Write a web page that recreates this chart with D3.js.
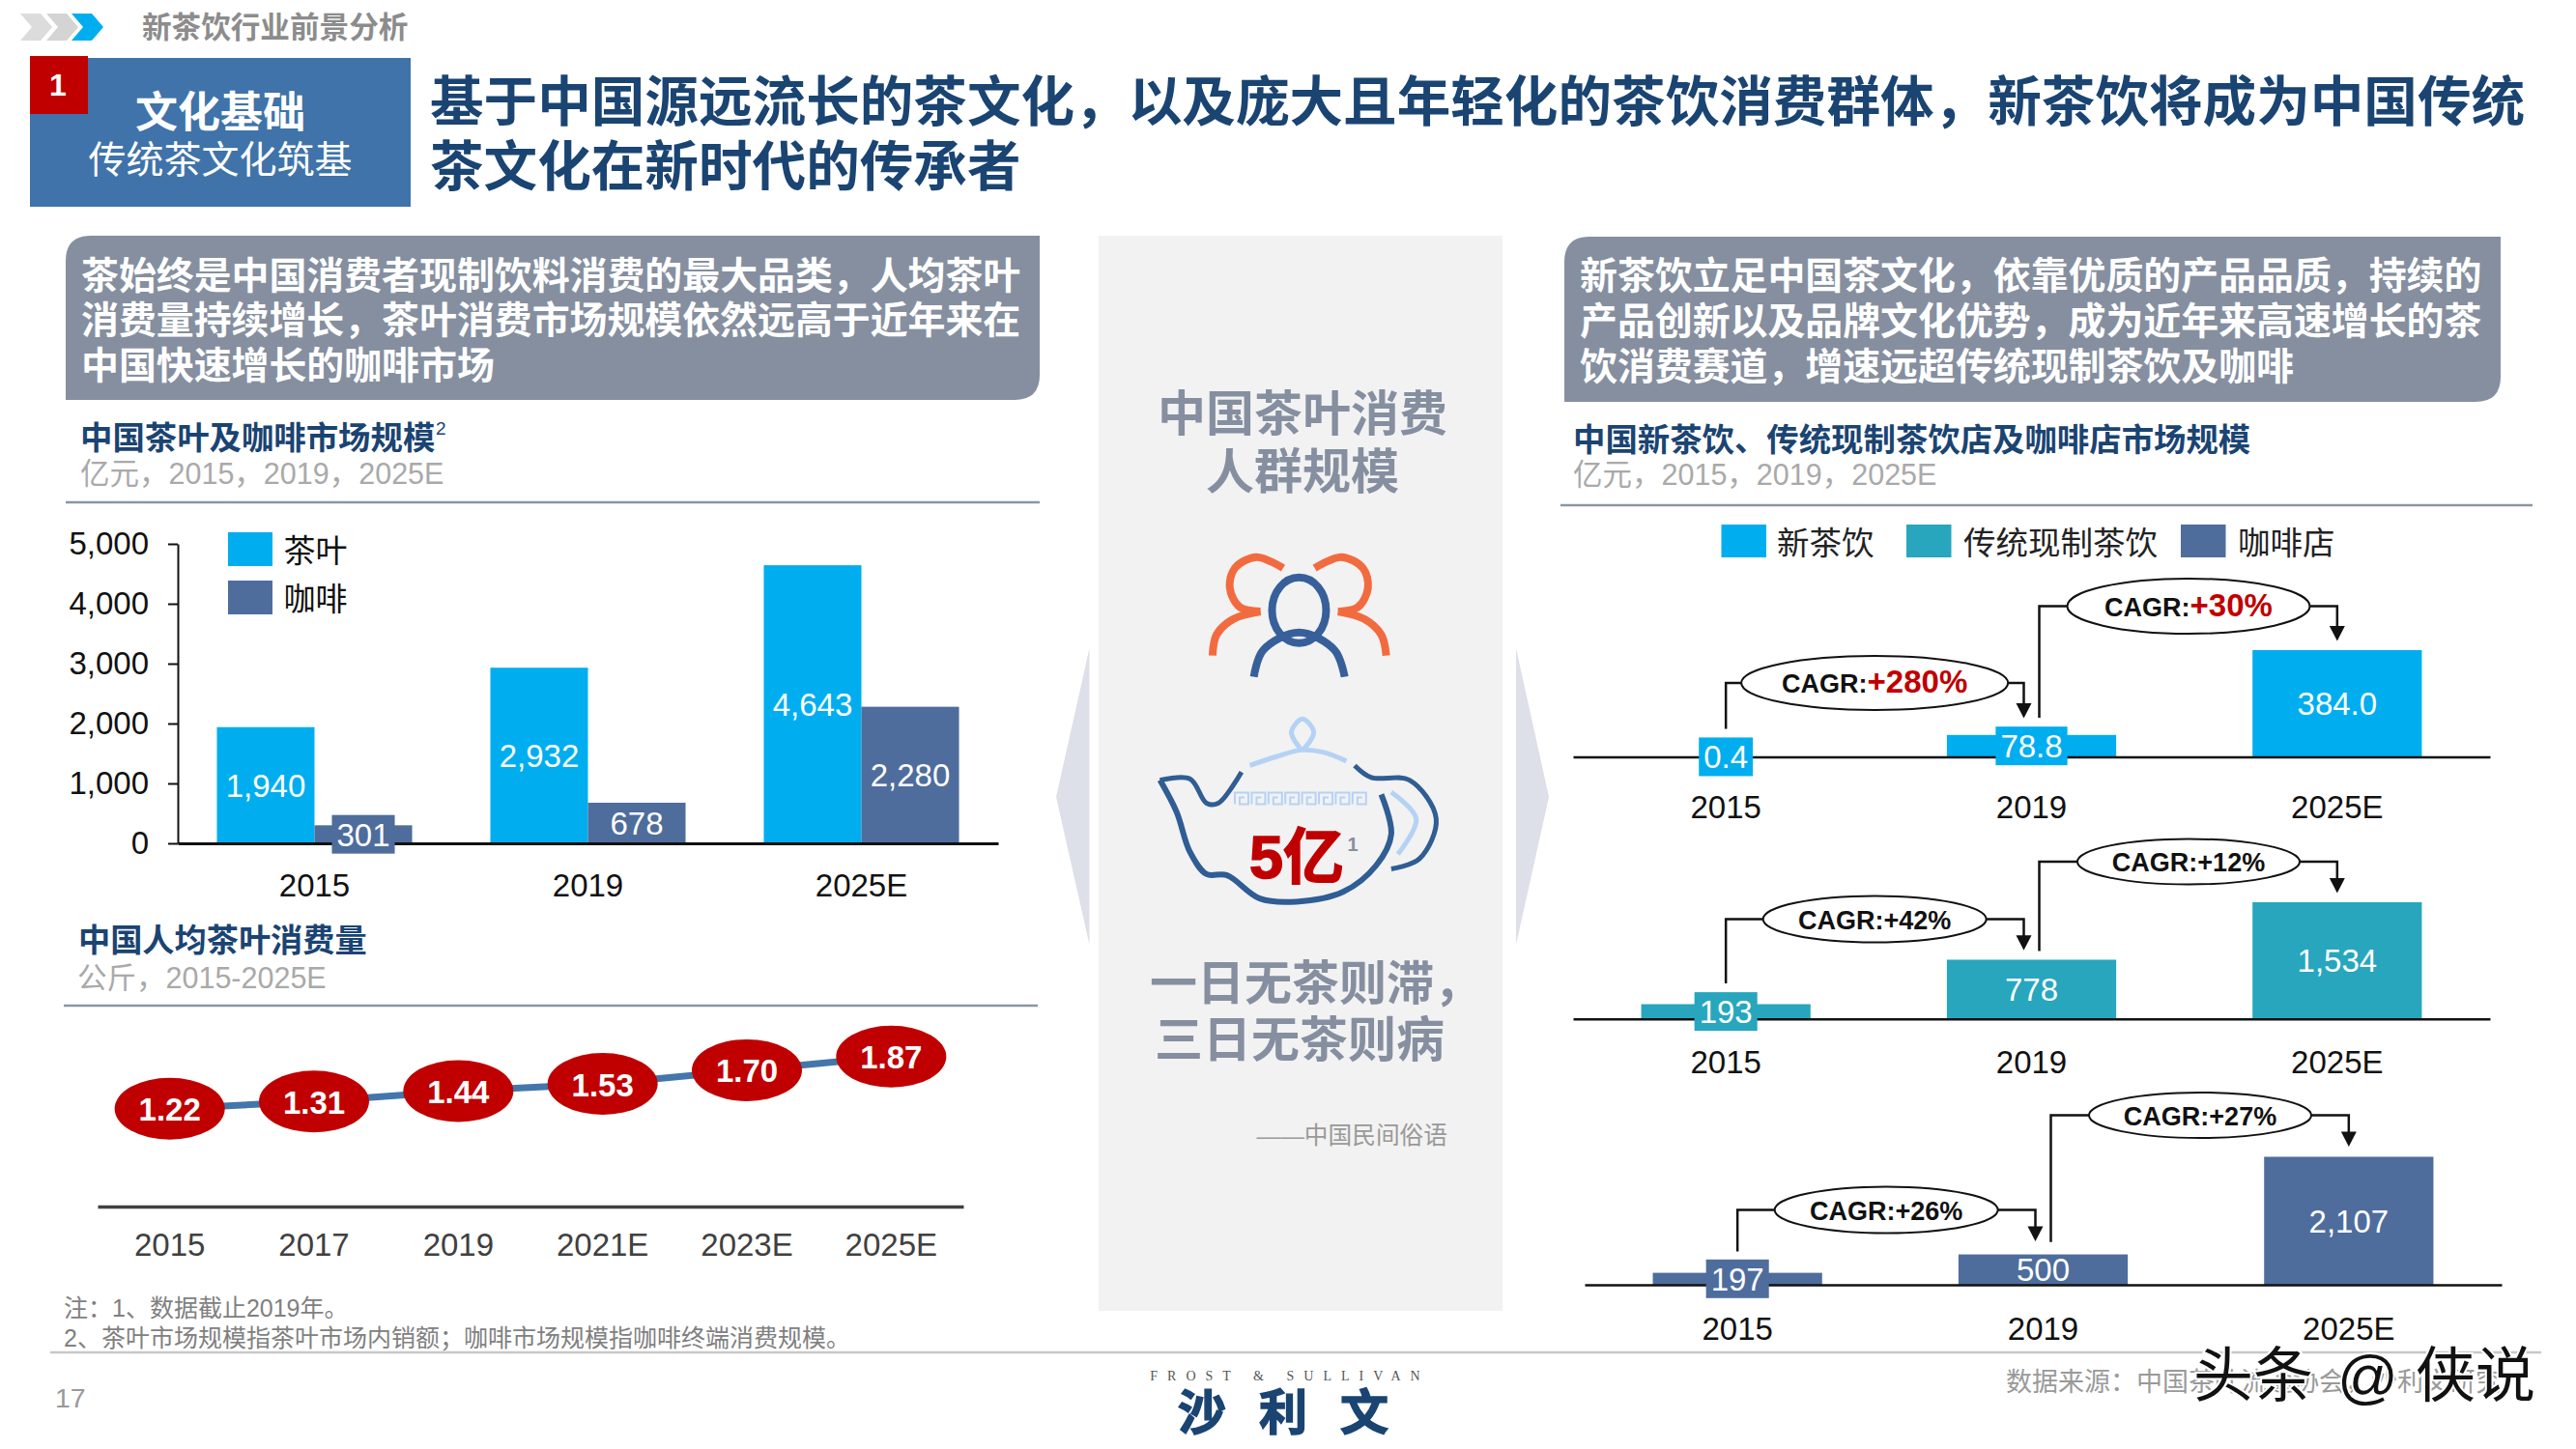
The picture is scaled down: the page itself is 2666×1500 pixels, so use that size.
<!DOCTYPE html>
<html>
<head>
<meta charset="utf-8">
<script src="https://cdnjs.cloudflare.com/ajax/libs/d3/7.8.5/d3.min.js"></script>
<style>
html, body { margin: 0; padding: 0; background: #fff; }
svg { display: block; }
</style>
</head>
<body>
<div id="chart"></div>
<script>
// market size, 亿元
const marketYears = ['2015', '2019', '2025E'];
const marketSeries = ['茶叶', '咖啡'];
const teaValues = [1940, 2932, 4643];
const coffeeValues = [301, 678, 2280];
const marketTicks = [0, 1000, 2000, 3000, 4000, 5000];

// per capita, 公斤
const perCapitaYears = ['2015', '2017', '2019', '2021E', '2023E', '2025E'];
const perCapitaValues = [1.22, 1.31, 1.44, 1.53, 1.70, 1.87];

// right side panels
const shopSeries = ['新茶饮', '传统现制茶饮', '咖啡店'];
const newTeaValues = [0.4, 78.8, 384.0];
const tradTeaValues = [193, 778, 1534];
const cafeValues = [197, 500, 2107];
const newTeaCagr = ['+280%', '+30%'];
const tradTeaCagr = ['+42%', '+12%'];
const cafeCagr = ['+26%', '+27%'];

const FONT = '"Liberation Sans", "Noto Sans CJK SC", sans-serif';
const NAVY = '#1a4472', SLATE = '#858fa0', SKY = '#00aeef', TEAL = '#27a6bd', STEEL = '#4e6d9c', RED = '#c00000';

var svg = d3.select('#chart').append('svg')
  .attr('width', 2666)
  .attr('height', 1500)
  .attr('viewBox', '0 0 2666 1500')
  .style('font-family', FONT);

svg.append('rect').attr('width', 2666).attr('height', 1500).attr('fill', '#fff');

function label(x, y, str, size, color, weight, anchor) {
  return svg.append('text')
    .attr('x', x)
    .attr('y', y)
    .attr('dy', '.35em')
    .attr('font-size', size)
    .attr('fill', color)
    .attr('font-weight', weight || 400)
    .attr('text-anchor', anchor || 'start')
    .text(str);
}

// box with the top-left and bottom-right corners rounded
function noteBox(x, y, w, h, r) {
  var p = d3.path();
  p.moveTo(x + r, y);
  p.lineTo(x + w, y);
  p.lineTo(x + w, y + h - r);
  p.quadraticCurveTo(x + w, y + h, x + w - r, y + h);
  p.lineTo(x, y + h);
  p.lineTo(x, y + r);
  p.quadraticCurveTo(x, y, x + r, y);
  p.closePath();
  svg.append('path').attr('d', p.toString()).attr('fill', SLATE);
}

function rule(x1, x2, y, color, width) {
  svg.append('line').attr('x1', x1).attr('x2', x2).attr('y1', y).attr('y2', y)
    .attr('stroke', color).attr('stroke-width', width);
}

// value in the middle of a bar, with a small plate when the bar is too thin for it
function barValue(cx, top, base, str, color) {
  var cy = (top + base) / 2;
  var plate = svg.append('rect');
  var t = label(cx, cy + 0.5, str, 33, '#fff', 400, 'middle');
  if (base - top < 28) {
    var w = t.node().getComputedTextLength() + 10;
    plate.attr('x', cx - w / 2).attr('y', cy - 20).attr('width', w).attr('height', 40).attr('fill', color);
  } else {
    plate.remove();
  }
}

// header
[[21, '#dcdcdc'], [48, '#d4d4d4'], [74, SKY]].forEach(function (c) {
  var x = c[0];
  svg.append('polygon')
    .attr('points', [[x, 14], [x + 21, 14], [x + 33, 28], [x + 21, 42], [x, 42], [x + 12, 28]].join(' '))
    .attr('fill', c[1]);
});
label(147, 28, '新茶饮行业前景分析', 30.6, '#8c8c8c', 700);

svg.append('rect').attr('x', 31).attr('y', 60).attr('width', 394).attr('height', 154).attr('fill', '#3f73a9');
svg.append('rect').attr('x', 31).attr('y', 58).attr('width', 60).attr('height', 60).attr('fill', RED);
label(60, 88, '1', 32, '#fff', 700, 'middle');
label(228, 117, '文化基础', 44, '#fff', 700, 'middle');
label(228, 165, '传统茶文化筑基', 39, '#fff', 400, 'middle');

label(445, 105.5, '基于中国源远流长的茶文化，以及庞大且年轻化的茶饮消费群体，新茶饮将成为中国传统', 55.6, NAVY, 700);
label(445, 172.5, '茶文化在新时代的传承者', 55.6, NAVY, 700);

// left column text
noteBox(68, 244, 1008, 170, 26);
['茶始终是中国消费者现制饮料消费的最大品类，人均茶叶', '消费量持续增长，茶叶消费市场规模依然远高于近年来在', '中国快速增长的咖啡市场'].forEach(function (t, i) {
  label(84, 285 + i * 46.5, t, 38.9, '#fff', 700);
});
label(83, 453, '中国茶叶及咖啡市场规模', 33.4, NAVY, 700);
label(451, 443, '2', 19, NAVY, 400);
label(83, 490, '亿元，2015，2019，2025E', 30.5, '#a9a9a9');
rule(68, 1076, 520, '#8a96a3', 2.5);

// market size chart
var marketX = d3.scaleBand().domain(marketYears).range([184, 1033]).paddingInner(0.286).paddingOuter(0.143);
var marketSub = d3.scaleBand().domain(marketSeries).range([0, marketX.bandwidth()]);
var marketY = d3.scaleLinear().domain([0, 5000]).range([873, 563]);
var marketFmt = d3.format(',');

var marketRows = [
  { name: marketSeries[0], values: teaValues, color: SKY },
  { name: marketSeries[1], values: coffeeValues, color: STEEL }
];

marketRows.forEach(function (row) {
  svg.append('g').selectAll('rect')
    .data(row.values)
    .enter()
    .append('rect')
    .attr('x', function (d, i) { return marketX(marketYears[i]) + marketSub(row.name); })
    .attr('y', function (d) { return marketY(d); })
    .attr('width', marketSub.bandwidth())
    .attr('height', function (d) { return marketY(0) - marketY(d); })
    .attr('fill', row.color);
});

var marketYAxis = svg.append('g')
  .attr('transform', 'translate(184,0)')
  .call(d3.axisLeft(marketY).tickValues(marketTicks).tickFormat(marketFmt).tickSize(10).tickSizeOuter(0).tickPadding(20));
marketYAxis.attr('font-size', 33).attr('font-family', FONT);
marketYAxis.selectAll('line,path').attr('stroke', '#111').attr('stroke-width', 2);
marketYAxis.selectAll('text').attr('fill', '#111');

var marketXAxis = svg.append('g')
  .attr('transform', 'translate(0,873)')
  .call(d3.axisBottom(marketX).tickSize(0).tickPadding(32));
marketXAxis.attr('font-size', 33).attr('font-family', FONT);
marketXAxis.select('path').attr('stroke', '#111').attr('stroke-width', 3);
marketXAxis.selectAll('text').attr('fill', '#111');

// labels go after the axis, the plate on a thin bar hides the baseline
marketRows.forEach(function (row) {
  row.values.forEach(function (d, i) {
    var cx = marketX(marketYears[i]) + marketSub(row.name) + marketSub.bandwidth() / 2;
    barValue(cx, marketY(d), marketY(0), marketFmt(d), row.color);
  });
});

[[551, SKY], [601, STEEL]].forEach(function (l, i) {
  svg.append('rect').attr('x', 236).attr('y', l[0]).attr('width', 46).attr('height', 35).attr('fill', l[1]);
  label(293.5, l[0] + 19.5, marketSeries[i], 33, '#111');
});

// per capita chart
label(81, 973, '中国人均茶叶消费量', 33.2, NAVY, 700);
label(80, 1012, '公斤，2015-2025E', 30.5, '#a9a9a9');
rule(66, 1074, 1041, '#8a96a3', 2.5);

var capitaX = d3.scaleBand().domain(perCapitaYears).range([101, 997]);
var capitaY = d3.scaleLinear().domain([0, 2]).range([1249, 1083]);
var capitaCx = function (i) { return capitaX(perCapitaYears[i]) + capitaX.bandwidth() / 2; };

var capitaLine = d3.line()
  .x(function (d, i) { return capitaCx(i); })
  .y(function (d) { return capitaY(d); });

svg.append('path')
  .attr('d', capitaLine(perCapitaValues))
  .attr('fill', 'none')
  .attr('stroke', '#4476ab')
  .attr('stroke-width', 7);

svg.append('g').selectAll('ellipse')
  .data(perCapitaValues)
  .enter()
  .append('ellipse')
  .attr('cx', function (d, i) { return capitaCx(i); })
  .attr('cy', function (d) { return capitaY(d); })
  .attr('rx', 57)
  .attr('ry', 32)
  .attr('fill', RED);

perCapitaValues.forEach(function (d, i) {
  label(capitaCx(i), capitaY(d) + 1, d3.format('.2f')(d), 33, '#fff', 700, 'middle');
});

var capitaAxis = svg.append('g')
  .attr('transform', 'translate(0,1249)')
  .call(d3.axisBottom(capitaX).tickSize(0).tickPadding(28));
capitaAxis.attr('font-size', 33).attr('font-family', FONT);
capitaAxis.select('path').attr('stroke', '#404040').attr('stroke-width', 3.5);
capitaAxis.selectAll('text').attr('fill', '#404040');

// notes and footer
label(66, 1354, '注：1、数据截止2019年。', 25, '#808080');
label(66, 1385, '2、茶叶市场规模指茶叶市场内销额；咖啡市场规模指咖啡终端消费规模。', 25, '#808080');
rule(52, 2630, 1400, '#c8c8c8', 2.5);
label(57, 1447, '17', 28.5, '#999');

// middle column
svg.append('rect').attr('x', 1137).attr('y', 244).attr('width', 418).attr('height', 1113).attr('fill', '#f2f2f2');
svg.append('polygon').attr('points', '1127.5,671 1093,825 1127.5,978').attr('fill', '#dde0e8');
svg.append('polygon').attr('points', '1569,671 1603,825 1569,978').attr('fill', '#dde0e8');
label(1348, 428.5, '中国茶叶消费', 50, SLATE, 700, 'middle');
label(1348, 488.5, '人群规模', 50, SLATE, 700, 'middle');

// icons, points as measured on the zoomed crop of that column
var iconX = function (v) { return 1080 + v / 2.904; };
var iconY = function (v) { return 230 + v / 2.178; };
var iconCurve = d3.line()
  .x(function (d) { return iconX(d[0]); })
  .y(function (d) { return iconY(d[1]); })
  .curve(d3.curveCatmullRom.alpha(0.5));

function stroke(points, color, width) {
  svg.append('path')
    .attr('d', iconCurve(points))
    .attr('fill', 'none')
    .attr('stroke', color)
    .attr('stroke-width', width)
    .attr('stroke-linejoin', 'round');
}

var ORANGE = '#f26b3f', ICONBLUE = '#37609a', POT = '#2f5d94', POTLIGHT = '#b5d2f5';
stroke([[720, 780], [640, 755], [575, 780], [560, 825], [590, 868], [652, 878]], ORANGE, 8);
stroke([[652, 878], [570, 895], [520, 930], [508, 977]], ORANGE, 8);
stroke([[815, 780], [895, 755], [960, 780], [975, 825], [945, 868], [885, 878]], ORANGE, 8);
stroke([[885, 878], [965, 895], [1015, 930], [1030, 977]], ORANGE, 8);
svg.append('ellipse').attr('cx', iconX(768)).attr('cy', iconY(875)).attr('rx', 28).attr('ry', 34)
  .attr('fill', 'none').attr('stroke', ICONBLUE).attr('stroke-width', 8);
stroke([[632, 1025], [660, 965], [768, 925], [875, 965], [905, 1025]], ICONBLUE, 8);

stroke([[350, 1258], [440, 1255], [490, 1310], [525, 1310], [595, 1240]], POT, 5);
stroke([[350, 1258], [400, 1330], [440, 1420], [490, 1470], [550, 1472], [650, 1525], [760, 1532], [900, 1510], [1000, 1450], [1045, 1380], [1015, 1290]], POT, 6);
stroke([[935, 1225], [985, 1252], [1100, 1258], [1180, 1345], [1130, 1435], [1045, 1458]], POT, 5);
stroke([[1045, 1285], [1120, 1345], [1065, 1425]], POTLIGHT, 5);
stroke([[620, 1225], [700, 1205], [775, 1190], [840, 1195], [910, 1215]], POTLIGHT, 5);
stroke([[775, 1190], [745, 1150], [778, 1120], [812, 1150], [780, 1190]], POTLIGHT, 5);

// key pattern on the pot
d3.range(8).forEach(function (i) {
  var x = 1278 + i * 17.4, y = 820.5;
  svg.append('path')
    .attr('d', 'M' + x + ',' + (y + 12) + 'V' + y + 'H' + (x + 14) + 'V' + (y + 12) + 'H' + (x + 5) + 'V' + (y + 5) + 'H' + (x + 10))
    .attr('fill', 'none')
    .attr('stroke', POTLIGHT)
    .attr('stroke-width', 2);
});

label(1342, 887, '5亿', 63, RED, 700, 'middle').attr('stroke', RED).attr('stroke-width', 1.5);
label(1400, 874, '1', 20, SLATE, 700, 'middle');

label(1190, 1018, '一日无茶则滞，', 49, SLATE, 700);
label(1195, 1076, '三日无茶则病', 50, SLATE, 700);
label(1498, 1175, '——中国民间俗语', 24.7, '#999', 400, 'end');

svg.append('text').attr('x', 1335).attr('y', 1424).attr('dy', '.35em')
  .attr('font-family', '"Liberation Serif", serif').attr('font-size', 14).attr('letter-spacing', 10)
  .attr('text-anchor', 'middle').attr('fill', '#555').text('FROST & SULLIVAN');
['沙', '利', '文'].forEach(function (t, i) {
  label(1244 + i * 84, 1462, t, 50, NAVY, 700, 'middle').attr('stroke', NAVY).attr('stroke-width', 1.5);
});

// right column text
noteBox(1619, 245, 969, 171, 26);
['新茶饮立足中国茶文化，依靠优质的产品品质，持续的', '产品创新以及品牌文化优势，成为近年来高速增长的茶', '饮消费赛道，增速远超传统现制茶饮及咖啡'].forEach(function (t, i) {
  label(1635, 285 + i * 47, t, 38.9, '#fff', 700);
});
label(1628, 455, '中国新茶饮、传统现制茶饮店及咖啡店市场规模', 33.4, NAVY, 700);
label(1628, 491, '亿元，2015，2019，2025E', 30.5, '#a9a9a9');
rule(1615, 2621, 523, '#8a96a3', 2.5);

[[1781.5, 1839, SKY], [1973, 2032, TEAL], [2257, 2316, STEEL]].forEach(function (l, i) {
  svg.append('rect').attr('x', l[0]).attr('y', 543).attr('width', 46.5).attr('height', 34).attr('fill', l[2]);
  label(l[1], 562, shopSeries[i], 33.5, '#222');
});

function shopPanel(cfg) {
  var x = d3.scaleBand().domain(marketYears).range(cfg.range).paddingInner(0.446).paddingOuter(0.223);
  var y = d3.scaleLinear().domain([0, d3.max(cfg.values)]).range([cfg.base, cfg.top]);
  var cx = function (i) { return x(marketYears[i]) + x.bandwidth() / 2; };

  svg.append('g').selectAll('rect')
    .data(cfg.values)
    .enter()
    .append('rect')
    .attr('x', function (d, i) { return x(marketYears[i]); })
    .attr('y', function (d) { return y(d); })
    .attr('width', x.bandwidth())
    .attr('height', function (d) { return y(0) - y(d); })
    .attr('fill', cfg.color);

  var axis = svg.append('g')
    .attr('transform', 'translate(0,' + cfg.base + ')')
    .call(d3.axisBottom(x).tickSize(0).tickPadding(cfg.pad));
  axis.attr('font-size', 33).attr('font-family', FONT);
  axis.select('path').attr('stroke', '#111').attr('stroke-width', 2.5);
  axis.selectAll('text').attr('fill', '#111');

  cfg.values.forEach(function (d, i) {
    barValue(cx(i), y(d), y(0), cfg.fmt(d), cfg.color);
  });

  // elbow connectors with the CAGR bubbles
  cfg.links.forEach(function (l, i) {
    var from = i == 0 ? cx(0) : cx(1) + 8;
    var to = i == 0 ? cx(1) - 8 : cx(2);
    var bx = i == 0 ? cx(0) + 154 : cx(1) + 162.5;
    svg.append('path')
      .attr('d', 'M' + from + ',' + l.start + 'V' + l.cy + 'H' + to + 'V' + (l.tip - 14))
      .attr('fill', 'none')
      .attr('stroke', '#111')
      .attr('stroke-width', 2.5);
    svg.append('polygon')
      .attr('points', [[to - 8, l.tip - 15.5], [to + 8, l.tip - 15.5], [to, l.tip]].join(' '))
      .attr('fill', '#111');
    svg.append('ellipse')
      .attr('cx', bx)
      .attr('cy', l.cy)
      .attr('rx', l.rx)
      .attr('ry', l.ry)
      .attr('fill', '#fff')
      .attr('stroke', '#111')
      .attr('stroke-width', 2);
    var t = label(bx, l.cy + 1, 'CAGR:', 27, '#111', 700, 'middle');
    t.append('tspan')
      .attr('font-size', cfg.loud ? 33 : 27)
      .attr('fill', cfg.loud ? RED : '#111')
      .text(cfg.cagr[i]);
  });
}

shopPanel({
  values: newTeaValues, color: SKY, fmt: d3.format('.1f'), cagr: newTeaCagr, loud: true,
  range: [1628, 2577], base: 783.5, top: 673, pad: 40,
  links: [
    { cy: 707, rx: 138, ry: 28, start: 754.5, tip: 743.5 },
    { cy: 627.5, rx: 125.5, ry: 28.5, start: 743, tip: 663.5 }
  ]
});

shopPanel({
  values: tradTeaValues, color: TEAL, fmt: d3.format(','), cagr: tradTeaCagr, loud: false,
  range: [1628, 2577], base: 1054.7, top: 934, pad: 33,
  links: [
    { cy: 951.5, rx: 115.5, ry: 24, start: 1018, tip: 983.7 },
    { cy: 892, rx: 115, ry: 23.5, start: 984.5, tip: 924.5 }
  ]
});

shopPanel({
  values: cafeValues, color: STEEL, fmt: d3.format(','), cagr: cafeCagr, loud: false,
  range: [1640, 2589], base: 1330, top: 1197.5, pad: 34,
  links: [
    { cy: 1252.5, rx: 115.5, ry: 24, start: 1295.5, tip: 1285 },
    { cy: 1154.5, rx: 115, ry: 23.5, start: 1285.7, tip: 1187 }
  ]
});

label(2076, 1431, '数据来源：中国茶叶流通协会，沙利文研究', 27, '#999');

// platform mark over the footer
[[2270, '头条'], [2419, '@'], [2500, '侠说']].forEach(function (m) {
  label(m[0], 1424, m[1], 62, '#111')
    .attr('stroke', '#fff')
    .attr('stroke-width', 4)
    .attr('paint-order', 'stroke');
});
</script>
</body>
</html>
